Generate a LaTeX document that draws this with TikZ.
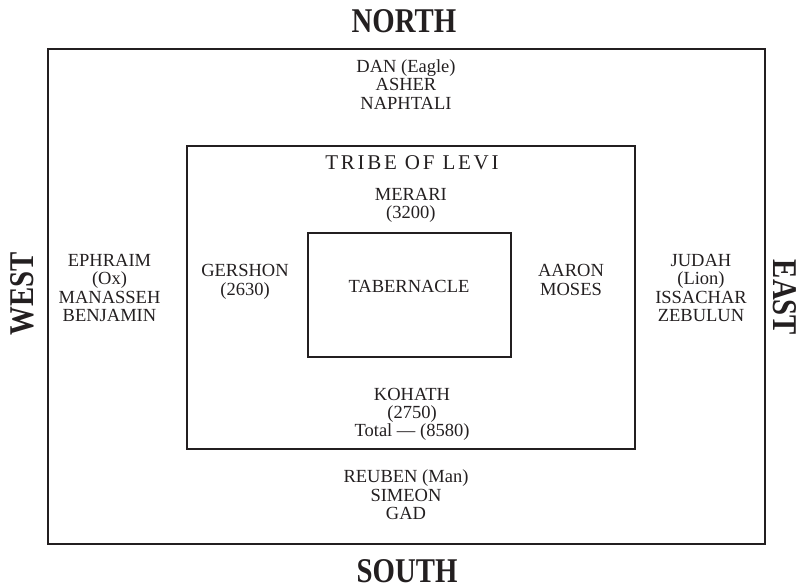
\documentclass[tikz,border=0pt]{standalone}
\usepackage{fontspec}
\setmainfont{Liberation Serif}
\newfontfamily\headfont[FakeStretch=0.83]{Liberation Serif Bold}
\newfontfamily\levifont[LetterSpace=13]{Liberation Serif}
\definecolor{ink}{HTML}{231F20}

\tikzset{
	camp/.style={draw=ink, line width=2pt},
	tribe/.style={align=center, anchor=base, inner sep=0pt, text=ink, font=\fontsize{18.5}{18.3}\selectfont},
	compass/.style={anchor=base, inner sep=0pt, text=ink, font=\headfont\fontsize{34.7}{40}\selectfont}
}

\begin{document}
\begin{tikzpicture}[x=1pt, y=-1pt]

\useasboundingbox (0,0) rectangle (809,586);

% camps
\draw [camp] (47.5,49) rectangle (765.3,544.3);
\draw [camp] (187,145.5) rectangle (635,449.3);
\draw [camp] (308,232.5) rectangle (510.7,356.7);

% directions
\node [compass] (north) at (404,33) {NORTH};
\node [compass] (south) at (407,582) {SOUTH};
\node [compass, rotate=90] (west) at (33.3,294) {WEST};
\node [compass, rotate=-90] (east) at (773.3,297.5) {EAST};

% outer tribes (anchored on the last line)
\node [tribe] (dan) at (406,109.3) {DAN (Eagle)\\ASHER\\NAPHTALI};
\node [tribe] (reuben) at (406,519.3) {REUBEN (Man)\\SIMEON\\GAD};
\node [tribe] (ephraim) at (109.5,321.5) {EPHRAIM\\(Ox)\\MANASSEH\\BENJAMIN};
\node [tribe] (judah) at (701,321.5) {JUDAH\\(Lion)\\ISSACHAR\\ZEBULUN};

% levites
\node [tribe, font=\levifont\fontsize{21}{22}\selectfont] (levi) at (412,169.3) {TRIBE OF LEVI};
\node [tribe] (merari) at (410.8,218.3) {MERARI\\(3200)};
\node [tribe] (gershon) at (245,295) {GERSHON\\(2630)};
\node [tribe] (aaron) at (571,295) {AARON\\MOSES};
\node [tribe] (kohath) at (412,436.6) {KOHATH\\(2750)\\Total --- (8580)};
\node [tribe] (tabernacle) at (409,292.3) {TABERNACLE};

\end{tikzpicture}
\end{document}
